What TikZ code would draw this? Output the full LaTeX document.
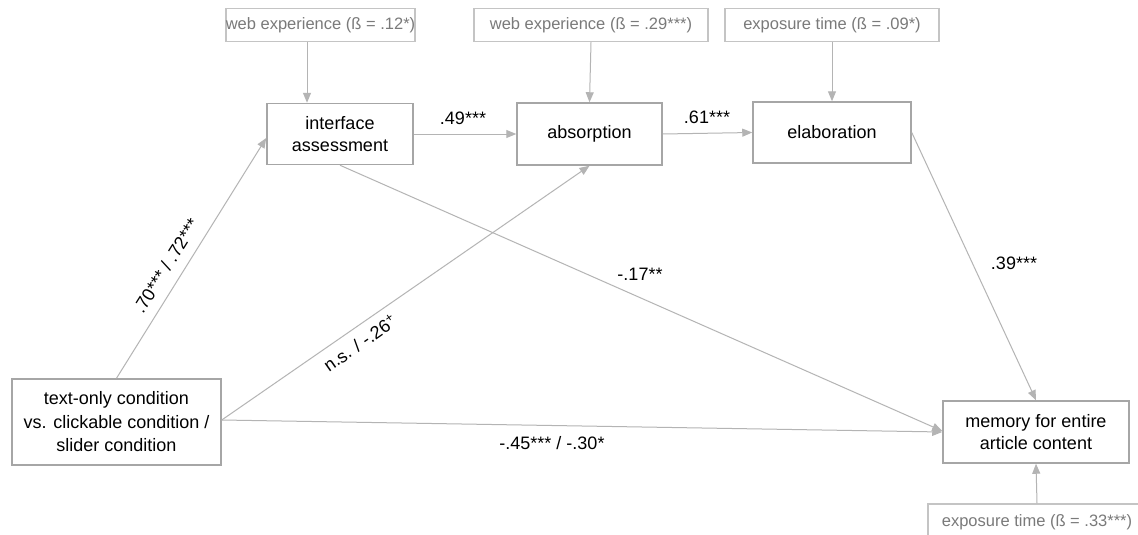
\documentclass[tikz,border=0pt]{standalone}
\usepackage{fontspec}
\setmainfont{Liberation Sans}
\usetikzlibrary{arrows.meta}
\definecolor{boxgray}{HTML}{A6A6A6}
\definecolor{lightbox}{HTML}{C4C4C4}
\definecolor{labgray}{HTML}{7A7A7A}
\definecolor{arrgray}{HTML}{B4B4B4}
\begin{document}
\begin{tikzpicture}[x=1pt,y=1pt,
 mainbox/.style={draw=boxgray, line width=1.5pt, fill=white, align=center, font=\fontsize{18}{22}\selectfont, inner sep=0pt},
 covbox/.style={draw=lightbox, line width=1.5pt, fill=white, text=labgray, font=\fontsize{16.5}{19}\selectfont, inner sep=0pt},
 arr/.style={draw=arrgray, line width=1pt, -{Triangle[length=10pt,width=8pt]}},
 lab/.style={font=\fontsize{18}{22}\selectfont, inner sep=0pt}]
\useasboundingbox (0,0) rectangle (1138,-535);
\clip (0,0) rectangle (1138,-535);
\fill[white] (0,0) rectangle (1138,-535);

% covariate boxes
\node[covbox, minimum width=185pt, minimum height=33pt] (web1) at (320.5,-25) {web experience (ß = .12*)};
\node[covbox, minimum width=234pt, minimum height=33pt] (web2) at (591,-25) {web experience (ß = .29***)};
\node[covbox, minimum width=214pt, minimum height=33pt] (exp1) at (832,-25) {exposure time (ß = .09*)};
\node[covbox, minimum width=218pt, minimum height=36pt] (exp2) at (1037,-522) {exposure time (ß = .33***)};

% main boxes
\node[mainbox, minimum width=146pt, minimum height=61pt] (interface) at (340,-134) {interface\\assessment};
\node[mainbox, minimum width=145pt, minimum height=62pt] (absorption) at (589.5,-134) {absorption};
\node[mainbox, minimum width=158pt, minimum height=61pt] (elaboration) at (832,-132.5) {elaboration};
\node[mainbox, minimum width=209pt, minimum height=86pt, font=\fontsize{18}{23.5}\selectfont] (textonly) at (116.5,-422) {text-only condition\\vs. clickable condition /\\slider condition};
\node[mainbox, minimum width=186pt, minimum height=62pt] (memory) at (1036,-432) {memory for entire\\article content};

% connectors
\draw[arr] ([xshift=-13.5pt]web1.south) -- ([xshift=-33pt]interface.north);
\draw[arr] (web2.south) -- (absorption.north);
\draw[arr] (exp1.south) -- (elaboration.north);
\draw[arr] (interface.east) -- (absorption.west);
\draw[arr] (absorption.east) -- (elaboration.west);
\draw[arr] (textonly.north) -- ([yshift=-4pt]interface.west);
\draw[arr] ([yshift=2pt]textonly.east) -- (absorption.south);
\draw[arr] ([yshift=2pt]textonly.east) -- (memory.west);
\draw[arr] (interface.south) -- ([yshift=1pt]memory.west);
\draw[arr] (elaboration.east) -- (memory.north);
\draw[arr] (exp2.north) -- (memory.south);

% labels
\node[lab] (l49) at (463,-118) {.49***};
\node[lab] (l61) at (707,-117) {.61***};
\node[lab, rotate=58] (l70) at (166,-266) {.70*** / .72***};
\node[lab, rotate=35] (lns) at (360,-343) {n.s. / -.26\textsuperscript{+}};
\node[lab] (l17) at (640,-274) {-.17**};
\node[lab] (l39) at (1014,-263) {.39***};
\node[lab] (l45) at (552,-443) {-.45*** / -.30*};
\end{tikzpicture}
\end{document}
